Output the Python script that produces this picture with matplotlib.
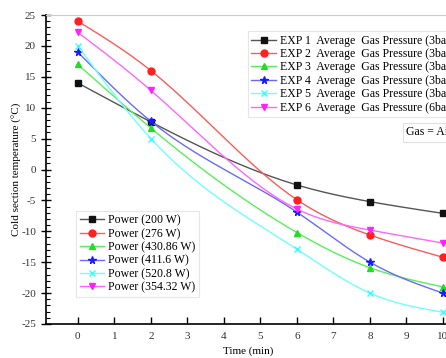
import matplotlib
matplotlib.use('Agg')
import matplotlib.pyplot as plt
import numpy as np
from matplotlib.ticker import MultipleLocator

plt.rcParams['font.family'] = 'Liberation Serif'
plt.rcParams['axes.unicode_minus'] = False

# ============================================================
# Data
# ============================================================

time_min = [0, 2, 6, 8, 10]

exp1 = [14.0, 7.7, -2.5, -5.2, -7.1]
exp2 = [24.0, 16.0, -4.9, -10.6, -14.2]
exp3 = [17.0, 6.7, -10.2, -15.9, -19.0]
exp4 = [19.0, 7.8, -6.9, -15.0, -20.0]
exp5 = [20.0, 5.0, -12.9, -20.0, -23.1]
exp6 = [22.2, 12.8, -6.4, -9.8, -11.9]

exp_labels = ['EXP 1  Average  Gas Pressure (3bar)',
              'EXP 2  Average  Gas Pressure (3bar)',
              'EXP 3  Average  Gas Pressure (3bar)',
              'EXP 4  Average  Gas Pressure (3bar)',
              'EXP 5  Average  Gas Pressure (3bar)',
              'EXP 6  Average  Gas Pressure (6bar)']
power_labels = ['Power (200 W)', 'Power (276 W)', 'Power (430.86 W)',
                'Power (411.6 W)', 'Power (520.8 W)', 'Power (354.32 W)']

# ============================================================
# Style
# ============================================================

line_colors = ['#555555', '#ff5a5a', '#5aee5a', '#6a6aff', '#70ffff', '#ff66ff']
mark_colors = ['#111111', '#ff2020', '#22dd22', '#1a1aff', '#33ffff', '#ff22ff']
markers = ['s', 'o', '^', '*', 'x', 'v']
msizes = [4.5, 5, 5, 5.5, 5, 5]


def spline(x, y, n=200):
    # natural cubic spline through the points (for smooth connecting curves)
    x = np.asarray(x, float)
    y = np.asarray(y, float)
    k = len(x)
    h = np.diff(x)
    A = np.zeros((k, k))
    b = np.zeros(k)
    A[0, 0] = A[-1, -1] = 1
    for i in range(1, k - 1):
        A[i, i - 1] = h[i - 1]
        A[i, i] = 2 * (h[i - 1] + h[i])
        A[i, i + 1] = h[i]
        b[i] = 6 * ((y[i + 1] - y[i]) / h[i] - (y[i] - y[i - 1]) / h[i - 1])
    M = np.linalg.solve(A, b)
    xs = np.linspace(x[0], x[-1], n)
    idx = np.clip(np.searchsorted(x, xs) - 1, 0, k - 2)
    x0, x1 = x[idx], x[idx + 1]
    hh = x1 - x0
    t0, t1 = x1 - xs, xs - x0
    ys = (M[idx] * t0 ** 3 + M[idx + 1] * t1 ** 3) / (6 * hh) \
        + (y[idx] / hh - M[idx] * hh / 6) * t0 \
        + (y[idx + 1] / hh - M[idx + 1] * hh / 6) * t1
    return xs, ys


fig = plt.figure(figsize=(4.46, 3.58), dpi=100)
ax = fig.add_axes([0.1025, 0.095, 0.9726, 0.863])

handles = []
for i, ys in enumerate([exp1, exp2, exp3, exp4, exp5, exp6]):
    sx, sy = spline(time_min, ys)
    ax.plot(sx, sy, '-', color=line_colors[i], lw=1.0)
    ax.plot(time_min, ys, markers[i], color=mark_colors[i], ms=msizes[i], lw=0)
    h, = ax.plot([], [], '-', marker=markers[i], color=line_colors[i],
                 mfc=mark_colors[i], mec=mark_colors[i], ms=msizes[i], lw=1.0)
    handles.append(h)

ax.set_xlim(-0.88, 11)
ax.set_ylim(-25, 25)
ax.yaxis.set_major_locator(MultipleLocator(5))
ax.yaxis.set_minor_locator(MultipleLocator(1))
ax.set_xticks(range(0, 12))
ax.tick_params(axis='x', direction='in', length=5, width=1, labelsize=8, pad=6,
               labelcolor='#333333')
ax.tick_params(axis='y', which='major', direction='inout', length=7, width=1, labelsize=8,
               labelcolor='#333333')
ax.tick_params(axis='y', which='minor', direction='in', length=3, width=0.8)
for s in ['left', 'bottom']:
    ax.spines[s].set_linewidth(1.2)
ax.spines['top'].set_color('#cccccc')
ax.spines['right'].set_color('#cccccc')

ax.set_xlabel('Time (min)', fontsize=8)
ax.xaxis.set_label_coords(0.466, -0.072)
ax.set_ylabel('Cold section temperature (\u00b0C)', fontsize=8)
ax.yaxis.set_label_coords(-0.055, 0.5)

legend_kw = dict(fontsize=8.5, frameon=True, fancybox=False, edgecolor='#e0e0e0',
                 handlelength=2.1, handletextpad=0.3, labelspacing=0.12,
                 borderpad=0.3, borderaxespad=0)

leg1 = ax.legend(handles, exp_labels, loc='upper left', bbox_to_anchor=(0.466, 0.948),
                 **legend_kw)
leg1.get_frame().set_linewidth(0.8)
ax.add_artist(leg1)

leg2 = ax.legend(handles, power_labels, loc='upper left', bbox_to_anchor=(0.07, 0.366),
                 **legend_kw)
leg2.get_frame().set_linewidth(0.8)

ax.text(0.831, 0.62, 'Gas = Air', transform=ax.transAxes, fontsize=8.5,
        ha='left', va='center',
        bbox=dict(boxstyle='square,pad=0.3', fc='white', ec='#e0e0e0', lw=0.8))

fig.savefig('out.png', dpi=100)
